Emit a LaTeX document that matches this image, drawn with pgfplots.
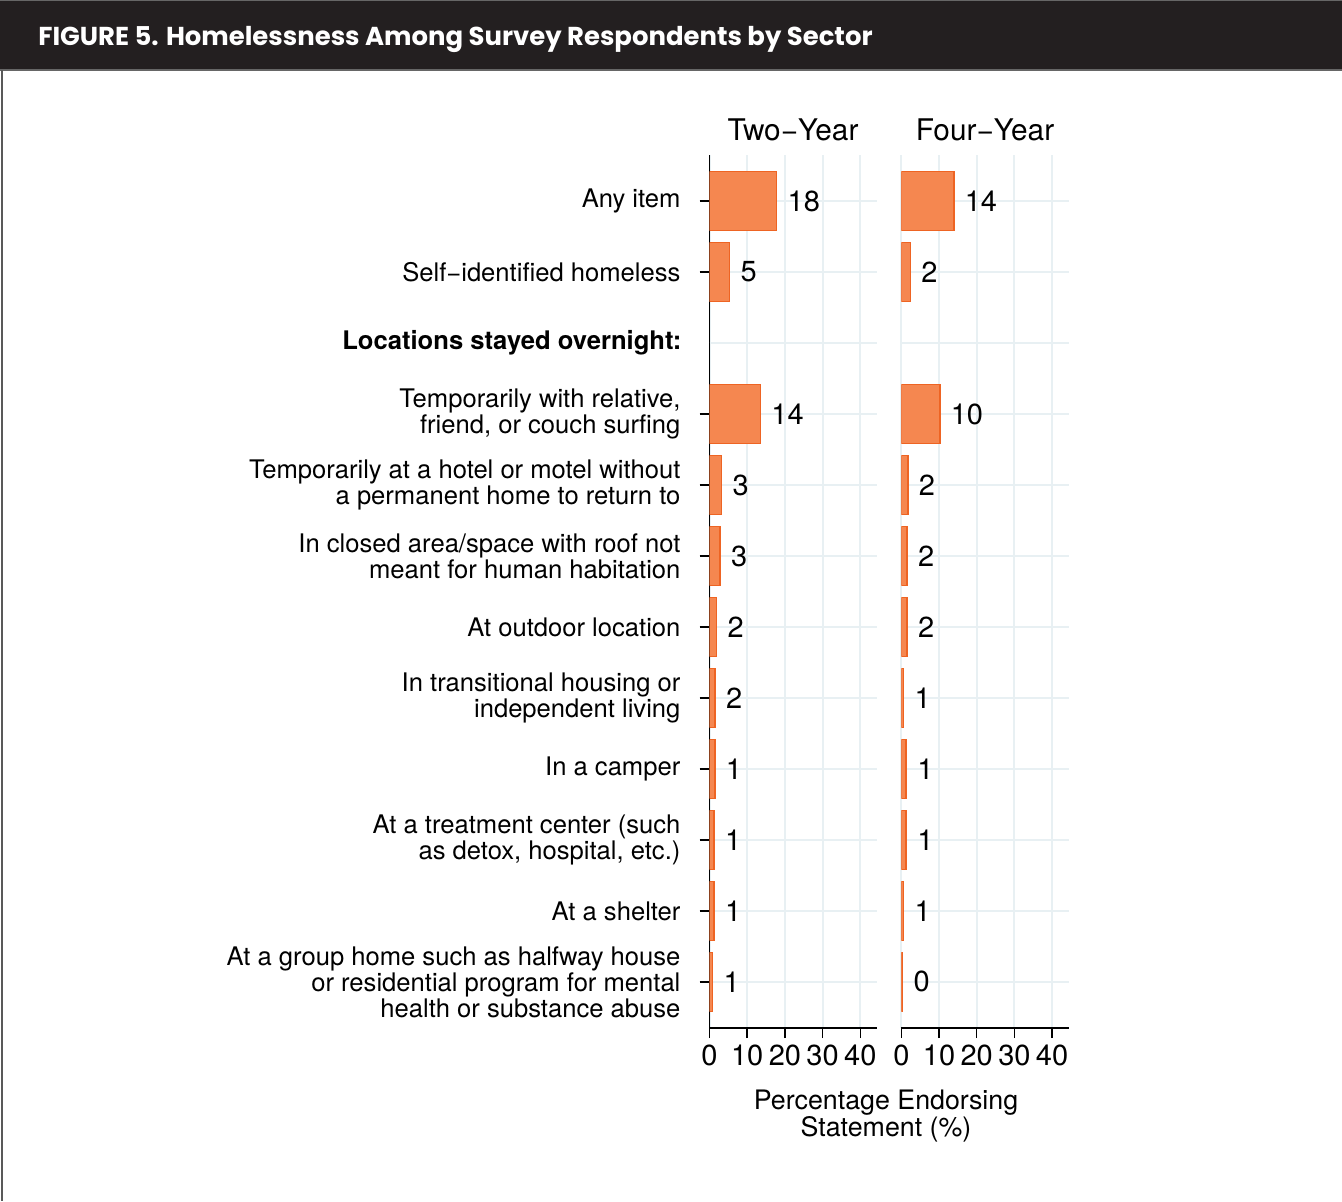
\documentclass[border=0pt]{standalone}
\usepackage{pgfplots}
\pgfplotsset{compat=1.18}
\usepackage{pgfplotstable}
\usepackage{fontspec}
\setmainfont{TeX Gyre Heros}
\newfontfamily\titlefont{Poppins}

\definecolor{barfill}{RGB}{245,135,80}
\definecolor{baredge}{RGB}{238,100,35}
\definecolor{gridc}{RGB}{232,240,243}
\definecolor{headbg}{RGB}{35,31,32}

% row: 11 = top item, 0 = bottom item (9 = section heading, no bar)
\pgfplotstableread{
row val lab
11 17.8 18
10 5.3 5
8 13.5 14
7 3.2 3
6 2.8 3
5 1.9 2
4 1.5 2
3 1.4 1
2 1.2 1
1 1.2 1
0 0.8 1
}\twoyear

\pgfplotstableread{
row val lab
11 13.9 14
10 2.4 2
8 10.2 10
7 1.7 2
6 1.5 2
5 1.5 2
4 0.6 1
3 1.3 1
2 1.3 1
1 0.6 1
0 0.3 0
}\fouryear

\newcommand{\lblfont}{\fontsize{12.8}{13}\selectfont}
\newcommand{\numfont}{\fontsize{14.5}{15}\selectfont}

\pgfplotsset{
  panel/.style={
    scale only axis, width=83.85pt, height=436.5pt,
    xmin=0, xmax=44.5, ymin=-0.65, ymax=11.65,
    axis x line=bottom, axis y line=left, axis line style={-, black, line width=0.75pt},
    xtick={0,10,20,30,40}, tick align=outside, major tick length=5pt,
    tick style={black, line width=0.75pt},
    grid=major, grid style={gridc, line width=1pt},
    /pgf/number format/assume math mode=true,
    ticklabel style={font=\numfont},
    xbar, bar width=0.83,
    point meta=explicit symbolic,
    nodes near coords, every node near coord/.append style={font=\numfont, anchor=west, xshift=1.8pt},
  },
  bars/.style={fill=barfill, draw=baredge, line width=0.8pt},
}

\begin{document}
\begin{tikzpicture}
\begin{scope}[x=0.5pt, y=-0.5pt]
  \useasboundingbox (0,0) rectangle (1342,1201);
  \fill[white] (0,0) rectangle (1342,1201);
  \fill[headbg] (0,0) rectangle (1342,70);
  \draw[gray!80!black, line width=0.5pt] (0,0.5) -- (1342,0.5);
  \draw[gray!80!black, line width=0.8pt] (0,70) -- (1342,70);
  \draw[gray!70!black, line width=1pt] (2,70) -- (2,1201);
  \node[anchor=west, inner sep=0pt, text=white, font=\titlefont\bfseries\fontsize{12.95}{14}\selectfont] at (38,39) {FIGURE 5. Homelessness Among Survey Respondents by Sector};
  \node[font=\fontsize{14.9}{16}\selectfont] at (793,130) {Two−Year};
  \node[font=\fontsize{14.9}{16}\selectfont] at (985,130) {Four−Year};
  \node[font=\fontsize{13.4}{13.5}\selectfont, align=center, inner sep=0pt] at (886,1116) {Percentage Endorsing\\Statement (\%)};
\end{scope}

\begin{axis}[panel, at={(354.75pt,-514pt)}, anchor=south west,
  ytick={0,1,2,3,4,5,6,7,8,10,11},
  yticklabel style={font=\lblfont, align=right, xshift=-6pt},
  yticklabels={
    {At a group home such as halfway house\\or residential program for mental\\health or substance abuse},
    {At a shelter},
    {At a treatment center (such\\as detox, hospital, etc.)},
    {In a camper},
    {In transitional housing or\\independent living},
    {At outdoor location},
    {In closed area/space with roof not\\meant for human habitation},
    {Temporarily at a hotel or motel without\\a permanent home to return to},
    {Temporarily with relative,\\friend, or couch surfing},
    {Self−identified homeless},
    {Any item}},
  extra y ticks={9},
  extra y tick labels={\textbf{Locations stayed overnight:}},
  extra y tick style={grid=major, major tick length=0pt, yticklabel style={xshift=-4.5pt}},
]
\addplot[bars] table[x=val, y=row, meta=lab] {\twoyear};
\end{axis}

\begin{axis}[panel, at={(450.65pt,-514pt)}, anchor=south west,
  ytick={0,...,11}, yticklabels={},
  y axis line style={draw=none}, ytick style={draw=none},
]
\addplot[bars] table[x=val, y=row, meta=lab] {\fouryear};
\end{axis}
\end{tikzpicture}
\end{document}
